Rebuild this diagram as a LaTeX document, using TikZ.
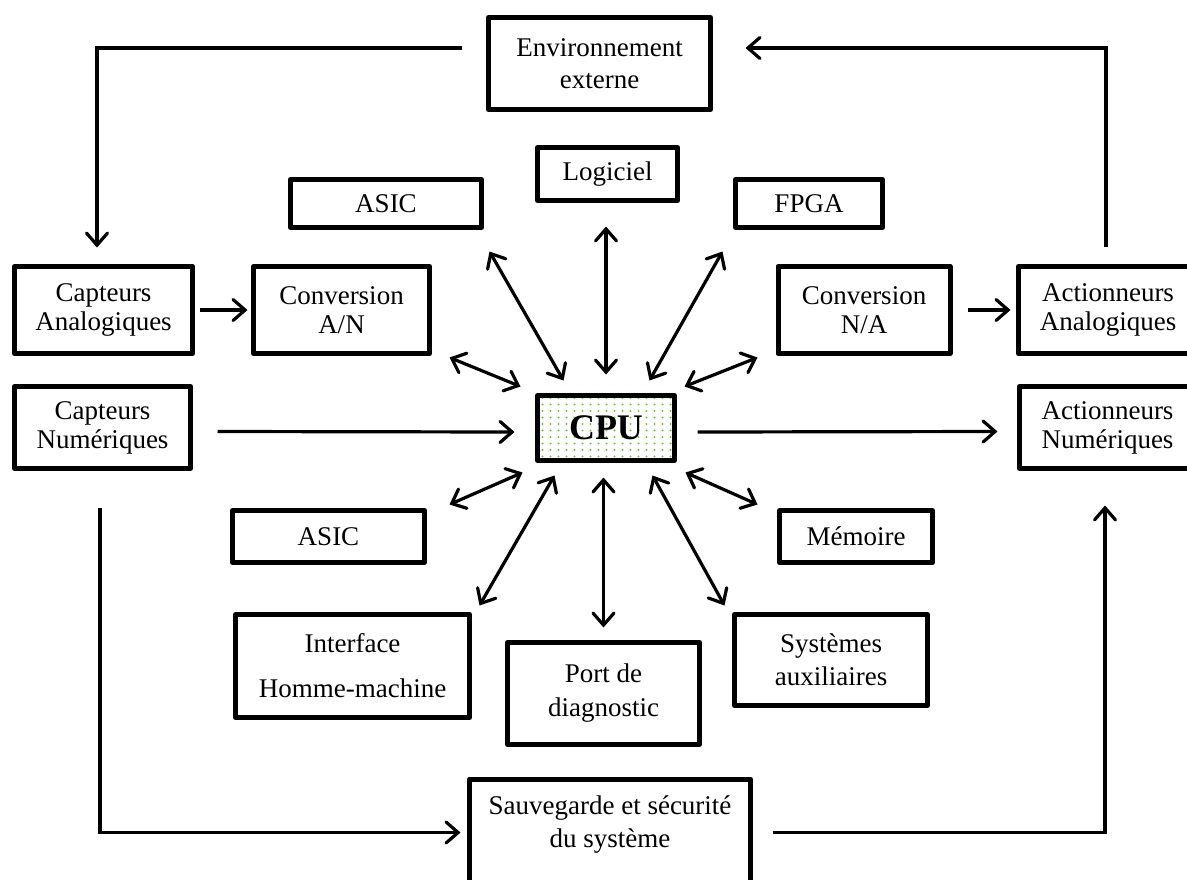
\documentclass[tikz,border=0pt]{standalone}
\usepackage{fontspec}
\setmainfont{Liberation Serif}
\usetikzlibrary{arrows.meta}
\definecolor{dotgreen}{RGB}{110,200,60}

\begin{document}
\begin{tikzpicture}[x=1pt,y=-1pt,
  box/.style={draw, line width=5pt, line join=round, align=center, inner sep=0pt,
    font=\fontsize{27}{29}\selectfont},
  lsk/.style={font=\fontsize{27}{#1}\selectfont},
  barb/.tip={Straight Barb[length=12pt,width=21pt,line cap=round]},
  link/.style={line width=3.2pt, -barb},
  dlink/.style={line width=3.2pt, barb-barb},
  dotted fill/.style={path picture={
    \foreach \i in {0,...,18}
      \foreach \j in {0,...,11}
        \fill[dotgreen] ([xshift=\i*8pt+5pt, yshift=\j*6.5pt+4pt]path picture bounding box.south west) circle (1.1pt);}},
]
\useasboundingbox (0,0) rectangle (1187,879);
\fill[white] (0,0) rectangle (1187,879);

% boxes
\node[box, lsk=32, minimum width=222, minimum height=92] (env) at (599.5,63.5) {Environnement\\externe};
\node[box, minimum width=140, minimum height=53] (logiciel) at (607.5,174) {Logiciel};
\node[box, minimum width=191, minimum height=48] (asicA) at (386,203.5) {ASIC};
\node[box, minimum width=147, minimum height=48] (fpga) at (809,203.5) {FPGA};

\node[box, minimum width=178, minimum height=87] (capA) at (103.5,310) {Capteurs\\Analogiques};
\node[box, minimum width=176, minimum height=87] (convAN) at (341.5,310) {Conversion\\A/N};
\node[box, minimum width=172, minimum height=87] (convNA) at (864,310) {Conversion\\N/A};
\node[box, minimum width=179, minimum height=87] (actA) at (1108,310) {Actionneurs\\Analogiques};

\node[box, minimum width=176, minimum height=82] (capN) at (102.5,427.5) {Capteurs\\Numériques};
\node[box, minimum width=176, minimum height=82] (actN) at (1107.5,427.5) {Actionneurs\\Numériques};
\node[box, dotted fill, minimum width=137, minimum height=65,
  font=\fontsize{36}{40}\selectfont\bfseries] (cpu) at (606,428) {CPU};

\node[box, minimum width=192, minimum height=52] (asicB) at (328.5,536.5) {ASIC};
\node[box, minimum width=153, minimum height=52] (mem) at (856,536.5) {Mémoire};

\node[box, lsk=45, minimum width=234, minimum height=103] (ihm) at (352.5,666) {Interface\\Homme-machine};
\node[box, lsk=34, minimum width=192, minimum height=102] (port) at (603.5,693.5) {Port de\\diagnostic};
\node[box, lsk=33, minimum width=193, minimum height=91] (sys) at (831,660) {Systèmes\\auxiliaires};
\node[box, lsk=33, minimum width=281, minimum height=120, anchor=north, text depth=35pt]
  (sauv) at (610,776.5) {Sauvegarde et sécurité\\du système};

% outer loop connectors
\draw[link] ([xshift=-24.5pt,yshift=15.5pt]env.west) -| ([xshift=-6.5pt,yshift=16.5pt]capA.north);
\draw[link] ([xshift=-2pt,yshift=17.5pt]actA.north) |- ([xshift=32.5pt,yshift=15.5pt]env.east);
\draw[link] ([xshift=4.5pt]capA.east) -- ([xshift=-3.5pt]convAN.west);
\draw[link] ([xshift=15.5pt]convNA.east) -- ([xshift=-5.5pt]actA.west);
\draw[link] ([xshift=24.5pt,yshift=-4pt]capN.east) -- ([xshift=-20.5pt,yshift=-4pt]cpu.west);
\draw[link] ([xshift=20.5pt,yshift=-4pt]cpu.east) -- ([xshift=-19.5pt,yshift=-4pt]actN.west);
\draw[link] ([xshift=-2.5pt,yshift=-36.5pt]capN.south) |- ([xshift=-6.5pt,yshift=6.5pt]sauv.west);
\draw[link] ([xshift=19.5pt,yshift=6.5pt]sauv.east) -| ([xshift=-2.5pt,yshift=-34.5pt]actN.south);

% two-way links around the CPU
\draw[dlink, shorten <=23.5pt, shorten >=18.5pt] (cpu.north |- logiciel.south) -- (cpu.north);
\draw[dlink] ([xshift=5.5pt,yshift=-21.5pt]asicA.south east) -- ([xshift=28.5pt,yshift=12.5pt]cpu.north west);
\draw[dlink] ([xshift=-10.5pt,yshift=-21.5pt]fpga.south west) -- ([xshift=-27.5pt,yshift=12.5pt]cpu.north east);
\draw[dlink] ([xshift=17.5pt,yshift=-1.5pt]convAN.south east) -- ([xshift=-14.5pt,yshift=6.5pt]cpu.north west);
\draw[dlink] ([xshift=-18pt,yshift=-1.5pt]convNA.south west) -- ([xshift=7.5pt,yshift=6.5pt]cpu.north east);
\draw[dlink] ([xshift=22.5pt,yshift=3.5pt]asicB.north east) -- ([xshift=-12.5pt,yshift=-9.5pt]cpu.south west);
\draw[dlink] ([xshift=-19.5pt,yshift=3.5pt]mem.north west) -- ([xshift=8.5pt,yshift=-9.5pt]cpu.south east);
\draw[dlink] ([xshift=7.5pt,yshift=6.5pt]ihm.north east) -- ([xshift=19.5pt,yshift=-12.5pt]cpu.south west);
\draw[dlink] ([xshift=-7.5pt,yshift=6.5pt]sys.north west) -- ([xshift=-24.5pt,yshift=-12.5pt]cpu.south east);
\draw[dlink, shorten <=12.5pt, shorten >=14.5pt] (port.north) -- (port.north |- cpu.south);
\end{tikzpicture}
\end{document}
